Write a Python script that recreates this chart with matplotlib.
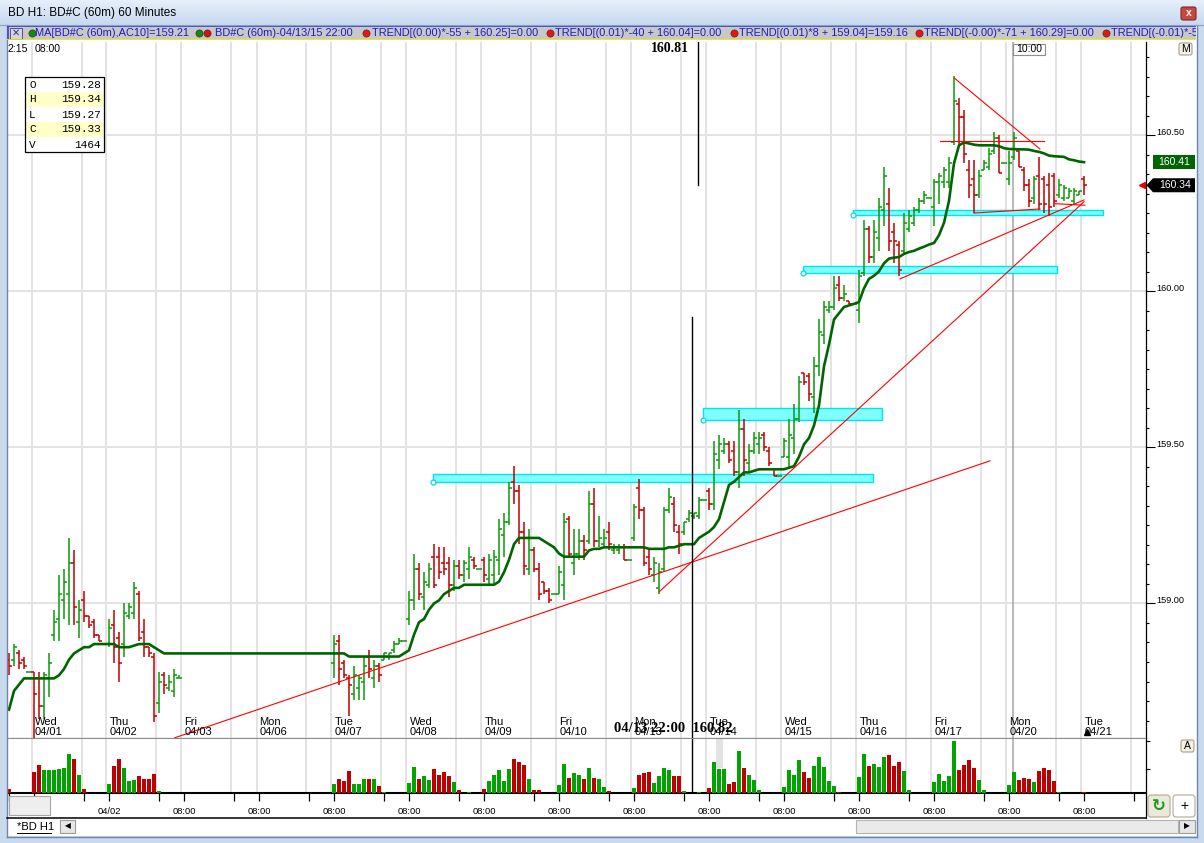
import numpy as np
import matplotlib.pyplot as plt
from matplotlib.patches import Rectangle, Polygon, FancyBboxPatch
from matplotlib.colors import LinearSegmentedColormap
from matplotlib.ticker import MultipleLocator, FixedLocator, NullFormatter, FormatStrFormatter
from matplotlib.transforms import blended_transform_factory as blend

plt.rcParams['font.family'] = ['Liberation Sans', 'DejaVu Sans']

# ---------------------------------------------------------------- data
# hourly bars, 15 slots per session, slot 0 = first bar of Wed 04/01
# (no bars on Fri 04/03 and Mon 04/06)
day_names = ['Wed', 'Thu', 'Fri', 'Mon', 'Tue', 'Wed', 'Thu', 'Fri',
             'Mon', 'Tue', 'Wed', 'Thu', 'Fri', 'Mon', 'Tue']
day_dates = ['04/01', '04/02', '04/03', '04/06', '04/07', '04/08', '04/09', '04/10',
             '04/13', '04/14', '04/15', '04/16', '04/17', '04/20', '04/21']
time_labels = ['08:00', '04/02'] + ['08:00'] * 13
SESSION = 15

slots = list(range(-5, 30)) + list(range(60, 211))

opens = [
    158.82, 158.82, 158.84, 158.82, 158.78,
    158.78, 158.76, 158.67, 158.76, 158.90, 158.95, 159.01, 159.03, 159.13, 158.94, 159.01, 158.96, 158.94, 158.90, 158.87,
    158.87, 158.93, 158.89, 158.87, 158.96, 158.97, 159.03, 158.91, 158.86, 158.83, 158.68, 158.77, 158.73, 158.72, 158.76,
    158.81, 158.88, 158.81, 158.76, 158.71, 158.73, 158.75, 158.83, 158.76, 158.80, 158.82, 158.83, 158.85, 158.87, 158.88,
    158.95, 159.01, 159.11, 159.02, 159.06, 159.15, 159.15, 159.13, 159.13, 159.06, 159.12, 159.09, 159.11, 159.14, 159.11,
    159.14, 159.08, 159.09, 159.14, 159.22, 159.26, 159.39, 159.36, 159.23, 159.11, 159.17, 159.11, 159.07, 159.04, 159.03,
    159.03, 159.06, 159.27, 159.13, 159.16, 159.20, 159.20, 159.32, 159.20, 159.19, 159.23, 159.17, 159.17, 159.18, 159.14,
    159.21, 159.37, 159.30, 159.15, 159.09, 159.05, 159.11, 159.30, 159.32, 159.23, 159.23, 159.27, 159.28, 159.28, 159.33,
    159.36, 159.32, 159.46, 159.49, 159.51, 159.49, 159.42, 159.56, 159.45, 159.49, 159.51, 159.54, 159.49, 159.43, 159.41,
    159.47, 159.47, 159.53, 159.59, 159.74, 159.73, 159.66, 159.76, 159.86, 159.94, 159.95, 160.02, 159.98, 159.97, 159.96,
    159.94, 160.06, 160.20, 160.11, 160.17, 160.26, 160.28, 160.19, 160.15, 160.13, 160.20, 160.22, 160.26, 160.29, 160.30,
    160.27, 160.35, 160.35, 160.35, 160.48, 160.60, 160.56, 160.39, 160.36, 160.31, 160.39, 160.40, 160.45, 160.49, 160.41,
    160.36, 160.43, 160.45, 160.39, 160.34, 160.30, 160.37, 160.36, 160.34, 160.37, 160.31, 160.30, 160.30, 160.29, 160.31,
    160.36]
highs = [
    158.84, 158.87, 158.85, 158.83, 158.78,
    158.78, 158.78, 158.78, 158.84, 158.98, 159.09, 159.11, 159.21, 159.17, 159.01, 159.04, 158.96, 158.95, 158.90, 158.87,
    158.95, 158.98, 158.91, 159.00, 159.00, 159.07, 159.04, 158.95, 158.86, 158.84, 158.78, 158.78, 158.77, 158.79, 158.77,
    158.90, 158.90, 158.82, 158.77, 158.80, 158.77, 158.83, 158.85, 158.82, 158.81, 158.84, 158.84, 158.88, 158.89, 158.88,
    159.04, 159.16, 159.13, 159.10, 159.13, 159.19, 159.18, 159.18, 159.15, 159.14, 159.14, 159.14, 159.18, 159.15, 159.11,
    159.15, 159.16, 159.17, 159.27, 159.29, 159.39, 159.44, 159.38, 159.26, 159.24, 159.18, 159.13, 159.07, 159.05, 159.03,
    159.12, 159.29, 159.28, 159.24, 159.24, 159.22, 159.36, 159.37, 159.28, 159.24, 159.26, 159.19, 159.19, 159.19, 159.14,
    159.32, 159.40, 159.31, 159.17, 159.15, 159.13, 159.31, 159.37, 159.34, 159.25, 159.26, 159.30, 159.29, 159.34, 159.33,
    159.37, 159.52, 159.54, 159.53, 159.52, 159.52, 159.62, 159.59, 159.51, 159.55, 159.55, 159.55, 159.50, 159.43, 159.41,
    159.53, 159.59, 159.64, 159.73, 159.74, 159.74, 159.79, 159.91, 159.97, 159.97, 160.05, 160.05, 160.02, 159.97, 159.96,
    160.07, 160.23, 160.21, 160.23, 160.30, 160.40, 160.33, 160.22, 160.16, 160.25, 160.26, 160.27, 160.30, 160.32, 160.30,
    160.36, 160.38, 160.40, 160.43, 160.69, 160.62, 160.58, 160.42, 160.42, 160.39, 160.42, 160.46, 160.51, 160.50, 160.41,
    160.45, 160.51, 160.45, 160.40, 160.36, 160.37, 160.43, 160.37, 160.38, 160.38, 160.36, 160.34, 160.33, 160.33, 160.32,
    160.37]
lows = [
    158.77, 158.80, 158.79, 158.79, 158.78,
    158.57, 158.63, 158.63, 158.70, 158.88, 158.88, 158.95, 158.93, 158.93, 158.89, 158.94, 158.92, 158.89, 158.88, 158.87,
    158.86, 158.81, 158.75, 158.83, 158.95, 158.95, 158.88, 158.83, 158.83, 158.62, 158.65, 158.71, 158.72, 158.70, 158.76,
    158.76, 158.74, 158.76, 158.64, 158.69, 158.69, 158.69, 158.76, 158.73, 158.75, 158.82, 158.82, 158.84, 158.87, 158.88,
    158.93, 158.98, 159.01, 158.98, 159.05, 159.05, 159.08, 159.09, 159.02, 159.04, 159.08, 159.07, 159.08, 159.11, 159.11,
    159.07, 159.06, 159.06, 159.09, 159.15, 159.25, 159.32, 159.19, 159.09, 159.09, 159.10, 159.01, 159.03, 159.00, 159.03,
    159.03, 159.01, 159.15, 159.09, 159.14, 159.14, 159.19, 159.18, 159.18, 159.18, 159.17, 159.16, 159.16, 159.14, 159.14,
    159.20, 159.27, 159.12, 159.09, 159.07, 159.03, 159.10, 159.29, 159.23, 159.16, 159.22, 159.26, 159.27, 159.27, 159.33,
    159.30, 159.30, 159.43, 159.48, 159.45, 159.41, 159.37, 159.41, 159.42, 159.48, 159.48, 159.49, 159.44, 159.41, 159.41,
    159.47, 159.43, 159.48, 159.58, 159.70, 159.65, 159.61, 159.73, 159.83, 159.93, 159.94, 159.97, 159.97, 159.96, 159.96,
    159.90, 160.05, 160.09, 160.09, 160.13, 160.21, 160.13, 160.09, 160.05, 160.12, 160.19, 160.21, 160.25, 160.28, 160.30,
    160.21, 160.28, 160.33, 160.33, 160.47, 160.47, 160.41, 160.30, 160.25, 160.30, 160.39, 160.39, 160.44, 160.38, 160.41,
    160.34, 160.42, 160.40, 160.32, 160.27, 160.28, 160.26, 160.25, 160.24, 160.27, 160.30, 160.29, 160.30, 160.28, 160.31,
    160.31]
closes = [
    158.80, 158.86, 158.81, 158.80, 158.78,
    158.71, 158.67, 158.77, 158.81, 158.94, 159.03, 159.07, 159.13, 158.99, 158.98, 158.96, 158.93, 158.90, 158.88, 158.87,
    158.92, 158.86, 158.81, 158.97, 158.99, 159.05, 158.89, 158.86, 158.84, 158.64, 158.75, 158.74, 158.75, 158.77, 158.76,
    158.87, 158.79, 158.77, 158.74, 158.77, 158.76, 158.80, 158.79, 158.80, 158.77, 158.84, 158.84, 158.87, 158.88, 158.88,
    159.01, 159.11, 159.03, 159.07, 159.11, 159.06, 159.10, 159.11, 159.06, 159.12, 159.09, 159.13, 159.15, 159.12, 159.11,
    159.09, 159.14, 159.15, 159.24, 159.26, 159.37, 159.36, 159.23, 159.12, 159.17, 159.11, 159.03, 159.04, 159.01, 159.03,
    159.10, 159.26, 159.16, 159.16, 159.20, 159.17, 159.32, 159.20, 159.21, 159.21, 159.19, 159.18, 159.18, 159.14, 159.14,
    159.31, 159.30, 159.13, 159.11, 159.13, 159.10, 159.30, 159.34, 159.25, 159.19, 159.26, 159.29, 159.29, 159.33, 159.33,
    159.32, 159.48, 159.51, 159.51, 159.46, 159.42, 159.56, 159.46, 159.49, 159.53, 159.53, 159.50, 159.45, 159.41, 159.41,
    159.52, 159.54, 159.59, 159.71, 159.71, 159.67, 159.76, 159.87, 159.95, 159.95, 160.01, 159.98, 159.99, 159.96, 159.96,
    160.05, 160.20, 160.11, 160.19, 160.27, 160.37, 160.16, 160.16, 160.07, 160.22, 160.24, 160.26, 160.29, 160.31, 160.30,
    160.35, 160.37, 160.39, 160.41, 160.61, 160.56, 160.44, 160.34, 160.31, 160.37, 160.41, 160.44, 160.49, 160.38, 160.41,
    160.41, 160.49, 160.40, 160.34, 160.29, 160.36, 160.28, 160.28, 160.27, 160.29, 160.34, 160.33, 160.32, 160.32, 160.32,
    160.34]
volume = [
    10000, 800, 800, 800, 800,
    52500, 70000, 57500, 57500, 57500, 60000, 62500, 97500, 85000, 45000, 10000, 800, 800, 800, 800,
    22500, 67500, 85000, 62500, 30000, 32500, 42500, 35000, 35000, 47500, 5000, 800, 800, 800, 800,
    22500, 35000, 30000, 55000, 22500, 22500, 35000, 35000, 35000, 17500, 2500, 800, 800, 800, 800,
    25000, 65000, 35000, 42500, 32500, 60000, 45000, 52500, 42500, 27500, 7500, 800, 2500, 800, 800,
    10000, 30000, 45000, 57500, 30000, 60000, 85000, 77500, 70000, 35000, 7500, 7500, 800, 800, 800,
    20000, 72500, 37500, 50000, 45000, 35000, 62500, 37500, 35000, 15000, 5000, 800, 800, 800, 800,
    12500, 45000, 50000, 52500, 25000, 42500, 62500, 57500, 42500, 42500, 5000, 800, 800, 1464, 800,
    12500, 77500, 60000, 60000, 22500, 27500, 105000, 62500, 45000, 32500, 7500, 800, 800, 800, 800,
    15000, 57500, 45000, 82500, 52500, 37500, 67500, 90000, 65000, 30000, 17500, 2500, 800, 800, 800,
    40000, 97500, 67500, 72500, 65000, 90000, 95000, 67500, 77500, 55000, 7500, 800, 800, 800, 800,
    27500, 47500, 30000, 42500, 130000, 57500, 70000, 82500, 62500, 32500, 7500, 800, 800, 800, 800,
    20000, 52500, 32500, 37500, 35000, 27500, 55000, 62500, 57500, 30000, 2500, 800, 800, 800, 800,
    2500]
# MA[BD#C (60m),AC10]
ma = [
    158.66, 158.72, 158.74, 158.76, 158.76,
    158.76, 158.76, 158.76, 158.76, 158.76, 158.77, 158.79, 158.82, 158.84, 158.85, 158.86, 158.86, 158.87, 158.87, 158.87,
    158.87, 158.87, 158.86, 158.86, 158.86, 158.865, 158.87, 158.87, 158.87, 158.86, 158.85, 158.84, 158.84, 158.84, 158.84,
    158.84, 158.84, 158.84, 158.83, 158.83, 158.83, 158.83, 158.83, 158.83, 158.83, 158.83, 158.83, 158.83, 158.83, 158.84,
    158.85, 158.90, 158.94, 158.95, 158.98, 159.00, 159.01, 159.03, 159.04, 159.05, 159.05, 159.06, 159.06, 159.06, 159.06,
    159.06, 159.06, 159.06, 159.07, 159.10, 159.14, 159.19, 159.21, 159.21, 159.21, 159.21, 159.21, 159.20, 159.19, 159.18,
    159.16, 159.15, 159.15, 159.15, 159.15, 159.15, 159.17, 159.175, 159.175, 159.18, 159.18, 159.18, 159.18, 159.18, 159.18,
    159.18, 159.18, 159.18, 159.175, 159.175, 159.175, 159.175, 159.18, 159.18, 159.185, 159.19, 159.19, 159.19, 159.21, 159.22,
    159.23, 159.245, 159.27, 159.325, 159.38, 159.39, 159.405, 159.42, 159.42, 159.425, 159.43, 159.43, 159.43, 159.43, 159.43,
    159.43, 159.435, 159.44, 159.47, 159.51, 159.53, 159.57, 159.635, 159.76, 159.83, 159.91, 159.93, 159.95, 159.955, 159.96,
    159.966, 160.01, 160.04, 160.05, 160.064, 160.09, 160.105, 160.108, 160.11, 160.12, 160.126, 160.13, 160.137, 160.143, 160.15,
    160.155, 160.18, 160.22, 160.29, 160.41, 160.468, 160.477, 160.474, 160.47, 160.468, 160.468, 160.468, 160.468, 160.465, 160.459,
    160.456, 160.456, 160.455, 160.455, 160.454, 160.45, 160.447, 160.442, 160.435, 160.433, 160.432, 160.431, 160.423, 160.42, 160.416,
    160.414]

# drawn objects: zones (slot0, slot1, low, high) and trend lines (slot0, price0, slot1, price1)
zones = [(79.8, 167.8, 159.389, 159.415), (133.8, 169.6, 159.588, 159.626),
         (153.8, 204.6, 160.059, 160.082), (163.8, 213.8, 160.245, 160.261)]
trends = [(28.2, 158.570, 191.2, 159.457), (125.0, 159.037, 210.0, 160.287),
          (173.2, 160.040, 210.0, 160.293), (184.1, 160.683, 201.2, 160.456),
          (181.2, 160.482, 202.1, 160.482), (188.0, 160.251, 201.2, 160.264),
          (204.2, 160.281, 210.2, 160.276)]
cursor_slot, cursor_top = 132.8, 160.34
date_line_slot, date_line_top = 131.6, 159.918
time_line_slot = 195.8   # 10:00 marker

n = len(slots)
assert all(len(a) == n for a in (opens, highs, lows, closes, volume, ma))

x = np.array(slots, dtype=float)
o, h, l, c = map(np.array, (opens, highs, lows, closes))
up = c >= o
GREEN, RED = '#0B990B', '#C00000'
bar_col = np.where(up, GREEN, RED)
vol_col = np.where(up, '#00A300', '#BE0000')

# ---------------------------------------------------------------- layout
W, H = 1204, 843
fig = plt.figure(figsize=(W / 100, H / 100), dpi=100)
fig.patch.set_facecolor('white')


def box(x0, y0, x1, y1):
    return [x0 / W, 1 - y1 / H, (x1 - x0) / W, (y1 - y0) / H]


ax = fig.add_axes(box(7, 42, 1145.5, 738))
vax = fig.add_axes(box(7, 739, 1145.5, 793))
XL = (-5.4, 222.3)
YL = (158.569, 160.799)
for a in (ax, vax):
    a.set_xlim(*XL)
    a.set_facecolor('white')
    for s in ('left', 'top'):
        a.spines[s].set_visible(False)
    a.spines['right'].set_color('black')
    a.spines['right'].set_linewidth(0.9)
ax.set_ylim(*YL)
vax.set_ylim(0, 135000)
ax.spines['bottom'].set_color('#8A8A8A')
ax.spines['bottom'].set_linewidth(0.9)
vax.spines['bottom'].set_linewidth(1.5)

# grid
grid_x = [SESSION * d - 0.5 for d in range(-1, 15)] + [SESSION * d + 9.5 for d in range(-1, 15)]
for a in (ax, vax):
    for g in grid_x:
        a.axvline(g, color='#E3E3E3', lw=1.4, zorder=0)
for p in (159.0, 159.5, 160.0, 160.5):
    ax.axhline(p, color='#E3E3E3', lw=1.4, zorder=0)

# 10:00 marker and crosshair
ax.axvline(time_line_slot, color='#A5A5A5', lw=1.1, zorder=1)
vax.axvline(time_line_slot, color='#A5A5A5', lw=1.1, zorder=1)
ax.plot([cursor_slot, cursor_slot], [cursor_top, YL[1]], color='black', lw=1.0, zorder=7)
ax.plot([date_line_slot, date_line_slot], [YL[0], date_line_top], color='black', lw=1.0, zorder=7)
vax.axvline(date_line_slot, color='black', lw=1.0, zorder=7)
vax.axvspan(136.4, 137.8, ymin=0.46, color='#E2E2E2', zorder=1, lw=0)

# zones
for s0, s1, p0, p1 in zones:
    ax.add_patch(Rectangle((s0, p0), s1 - s0, p1 - p0, fc='#80FFFF', ec='#00E4F0', lw=1.0, zorder=2))
    ax.plot(s0, p0, 'o', ms=3.5, mfc='white', mec='#00D8F0', mew=0.9, zorder=6)

# OHLC bars
ax.vlines(x, l, h, colors=bar_col, lw=1.1, zorder=3)
ax.hlines(o, x - 0.6, x, colors=bar_col, lw=1.1, zorder=3)
ax.hlines(c, x, x + 0.6, colors=bar_col, lw=1.1, zorder=3)

# moving average
ax.plot(x, ma, color='#006400', lw=1.9, zorder=4, solid_joinstyle='round')

# trend lines
for s0, p0, s1, p1 in trends:
    ax.plot([s0, s1], [p0, p1], color='#FF0000', lw=0.8, zorder=5)

# volume
vax.bar(x, volume, width=0.8, color=vol_col, zorder=3, lw=0)

# price axis (right)
ax.yaxis.tick_right()
ax.yaxis.set_major_locator(MultipleLocator(0.5))
ax.yaxis.set_minor_locator(MultipleLocator(0.0625))
ax.yaxis.set_major_formatter(FormatStrFormatter('%.2f'))
ax.tick_params(axis='y', which='major', length=6.8, width=0.8, pad=1, labelsize=6.6, colors='black')
ax.tick_params(axis='y', which='minor', length=2.4, width=0.8)
ax.tick_params(axis='x', which='both', bottom=False, labelbottom=False)
for t in ax.yaxis.get_major_ticks():
    t.label2.set_va('baseline')

vax.yaxis.tick_right()
vax.yaxis.set_major_locator(FixedLocator([60000, 130000]))
vax.yaxis.set_major_formatter(NullFormatter())
vax.tick_params(axis='y', length=2.6, width=0.8)

# time axis
vax.set_xticks([SESSION * d for d in range(15)])
vax.set_xticklabels(time_labels)
vax.set_xticks([SESSION * d + 10 for d in range(-1, 15)], minor=True)
vax.tick_params(axis='x', which='both', direction='out', length=5.8, width=0.9,
                labelsize=6.7, pad=4.3)

# day labels inside the price pane
bx = blend(ax.transData, ax.transAxes)
for d, (nm, dt) in enumerate(zip(day_names, day_dates)):
    ax.text(SESSION * d + 0.1, 0.001, f'{nm}\n{dt}', transform=bx, ha='left', va='bottom',
            fontsize=8, linespacing=1.05, zorder=8)
ax.plot([slots[-1] + 0.6], [0.008], marker='^', color='black', ms=4.5, transform=bx, zorder=8)
ax.text(-1.2, 0.990, '2:15', transform=bx, ha='right', va='center', fontsize=7.6)
ax.text(0.1, 0.990, '08:00', transform=bx, ha='left', va='center', fontsize=7.6)

# value tags on the price scale
by = blend(ax.transAxes, ax.transData)
aw = 1138.5
hp = 7 / 312
ma_last, close_last = ma[-1], closes[-1]
ax.add_patch(Rectangle(((1153 - 7) / aw, ma_last - hp), 42 / aw, 2 * hp, transform=by,
                       fc='#006400', ec='none', clip_on=False, zorder=9))
ax.text((1174 - 7) / aw, ma_last, f'{ma_last:.2f}', transform=by, color='white',
        ha='center', va='center', fontsize=7.5, clip_on=False, zorder=10)
ax.add_patch(Polygon([((1146.5 - 7) / aw, close_last), ((1153 - 7) / aw, close_last + hp),
                      ((1195 - 7) / aw, close_last + hp), ((1195 - 7) / aw, close_last - hp),
                      ((1153 - 7) / aw, close_last - hp)], closed=True, transform=by,
                     fc='black', ec='none', clip_on=False, zorder=9))
ax.text((1175 - 7) / aw, close_last, f'{close_last:.2f}', transform=by, color='white',
        ha='center', va='center', fontsize=7.5, clip_on=False, zorder=10)
ax.plot([(1142 - 7) / aw], [close_last], marker='<', color='#E00000', ms=4, transform=by,
        clip_on=False, zorder=10)

# ---------------------------------------------------------------- window chrome
ov = fig.add_axes([0, 0, 1, 1])
ov.set_zorder(5)
ov.axis('off')
tb = LinearSegmentedColormap.from_list('tb', ['#E6EFFA', '#C7D9F0'])
ov.imshow(np.linspace(0, 1, 50)[:, None], extent=(0, W, 25, 0), cmap=tb, aspect='auto', zorder=1)
ov.set_xlim(0, W)
ov.set_ylim(H, 0)

frame = '#C9DAEF'
ov.add_patch(Rectangle((0, 25), 7, H - 25, fc=frame, ec='none'))
ov.add_patch(Rectangle((1197, 25), 7, H - 25, fc=frame, ec='none'))
ov.add_patch(Rectangle((0, 836), W, 7, fc=frame, ec='none'))
ov.plot([6.5, 6.5], [25, 836.5], color='#6F86A8', lw=1)
ov.plot([1196.8, 1196.8], [25, 836.5], color='#6F86A8', lw=1)
ov.plot([6.5, 1196.8], [836.5, 836.5], color='#6F86A8', lw=1)
ov.plot([0, W], [25.3, 25.3], color='#8BA2C2', lw=0.8)
ov.text(8, 13, 'BD H1: BD#C (60m) 60 Minutes', fontsize=8.5, va='center', ha='left', color='black')
ov.add_patch(FancyBboxPatch((1181, 7), 15, 13, boxstyle='round,pad=0,rounding_size=2',
                            fc='#C9473F', ec='#7E2A25', lw=0.8))
ov.text(1188.5, 13.5, 'x', color='white', fontsize=7.5, fontweight='bold', ha='center', va='center')

# OHLC readout of the crosshair bar
i = slots.index(133)
rows = [('O', f'{opens[i]:.2f}'), ('H', f'{highs[i]:.2f}'), ('L', f'{lows[i]:.2f}'),
        ('C', f'{closes[i]:.2f}'), ('V', f'{volume[i]}')]
for k, (lab, val) in enumerate(rows):
    y0 = 77 + 15 * k
    ov.add_patch(Rectangle((25, y0), 79, 15, fc='#FFFFC8' if k % 2 else 'white', ec='none'))
    ov.text(29, y0 + 7.5, lab, family='Liberation Mono', fontsize=8, va='center', ha='left')
    ov.text(101, y0 + 7.5, val, family='Liberation Mono', fontsize=8, va='center', ha='right')
ov.add_patch(Rectangle((25, 77), 79, 75, fc='none', ec='black', lw=0.9))

# crosshair labels
ov.text(689, 48, '160.81', family='Liberation Serif', fontweight='bold', fontsize=10,
        ha='right', va='center')
ov.text(673, 729, '04/13 22:00  160.82', family='Liberation Serif', fontweight='bold',
        fontsize=10.5, ha='center', va='center', zorder=9)

# 10:00 box, M / A buttons
ov.add_patch(Rectangle((1013, 44), 32, 11, fc='white', ec='#8E8E8E', lw=0.8))
ov.text(1029, 49.5, '10:00', fontsize=7.5, ha='center', va='center')
for bxp, byp, t in ((1179, 43, 'M'), (1181, 740, 'A')):
    ov.add_patch(FancyBboxPatch((bxp, byp), 13, 12, boxstyle='round,pad=0,rounding_size=2',
                                fc='#F3F0E6', ec='#A89E84', lw=0.8))
    ov.text(bxp + 6.5, byp + 6.3, t, fontsize=7.5, ha='center', va='center')

# bottom: time-axis frame, tab bar, scroll bar, buttons
ov.plot([7, 1146], [818, 818], color='black', lw=1.1)
ov.plot([1145.6, 1145.6], [793, 818], color='black', lw=0.9)
ov.add_patch(Rectangle((9, 796), 41, 19, fc='#EEEEEE', ec='#A6A6A6', lw=0.8))
ov.text(17, 827, '*BD H1', fontsize=8, ha='left', va='center')
ov.plot([17, 51], [832.5, 832.5], color='black', lw=0.7)
ov.add_patch(Rectangle((60, 820), 15, 13, fc='#E6E6E6', ec='#9C9C9C', lw=0.8))
ov.text(67.5, 826.5, '◀', fontsize=5.5, ha='center', va='center')
ov.add_patch(Rectangle((856, 820), 322, 13, fc='#EAEAEA', ec='#B4B4B4', lw=0.8))
ov.add_patch(Rectangle((1179, 820), 16, 13, fc='#E6E6E6', ec='#9C9C9C', lw=0.8))
ov.text(1187, 826.5, '▶', fontsize=5.5, ha='center', va='center')
ov.add_patch(FancyBboxPatch((1148, 795), 22, 22, boxstyle='round,pad=0,rounding_size=3',
                            fc='#ECE9DA', ec='#B4AA8C', lw=0.8))
ov.text(1159, 806, '↻', color='#1C9A1C', fontsize=12, fontweight='bold', ha='center', va='center')
ov.add_patch(FancyBboxPatch((1173, 795), 22, 22, boxstyle='round,pad=0,rounding_size=3',
                            fc='white', ec='#B4AA8C', lw=0.8))
ov.text(1184, 806, '+', fontsize=10, ha='center', va='center')

# legend strip
lax = fig.add_axes(box(7, 26, 1196, 40))
lax.set_zorder(6)
lax.set_xlim(7, 1196)
lax.set_ylim(40, 26)
lax.axis('off')
lax.add_patch(Rectangle((7, 26), 1189, 14, fc='#C8C8C8', ec='none'))
lax.plot([7, 1196], [26.4, 26.4], color='#2434D0', lw=1.1)
lax.plot([8.4, 8.4], [26, 40], color='#2434D0', lw=1.1)
lax.plot([7, 1196], [39.6, 39.6], color='#F2F200', lw=1.2)
lax.add_patch(Rectangle((10, 27.5), 12, 11, fc='#D6D6D6', ec='#5050A0', lw=0.7))
lax.text(16, 33, '✕', family='DejaVu Sans', fontsize=7, color='#303080', ha='center', va='center')
legend_text = [(35, f'MA[BD#C (60m),AC10]={ma[i]:.2f}'),
               (215, 'BD#C (60m)-04/13/15 22:00'),
               (372, 'TREND[(0.00)*-55 + 160.25]=0.00'),
               (555, 'TREND[(0.01)*-40 + 160.04]=0.00'),
               (739, 'TREND[(0.01)*8 + 159.04]=159.16'),
               (924, 'TREND[(-0.00)*-71 + 160.29]=0.00'),
               (1111, 'TREND[(-0.01)*-5 + 160.30]=0.00')]
legend_dots = [(31.5, '#138A13'), (198.5, '#138A13'), (206.5, '#D01515'), (366, '#E81515'),
               (549.5, '#E81515'), (733.5, '#E81515'), (918.5, '#E81515'), (1105.5, '#E81515')]
for xp, col in legend_dots:
    lax.plot(xp, 33, 'o', ms=5.2, mfc=col, mec='#402020', mew=0.4)
for xp, s in legend_text:
    lax.text(xp, 33.2, s, fontsize=7.9, color='#1C1CC4', ha='left', va='center', clip_on=True)

fig.savefig('out.png', dpi=100)
